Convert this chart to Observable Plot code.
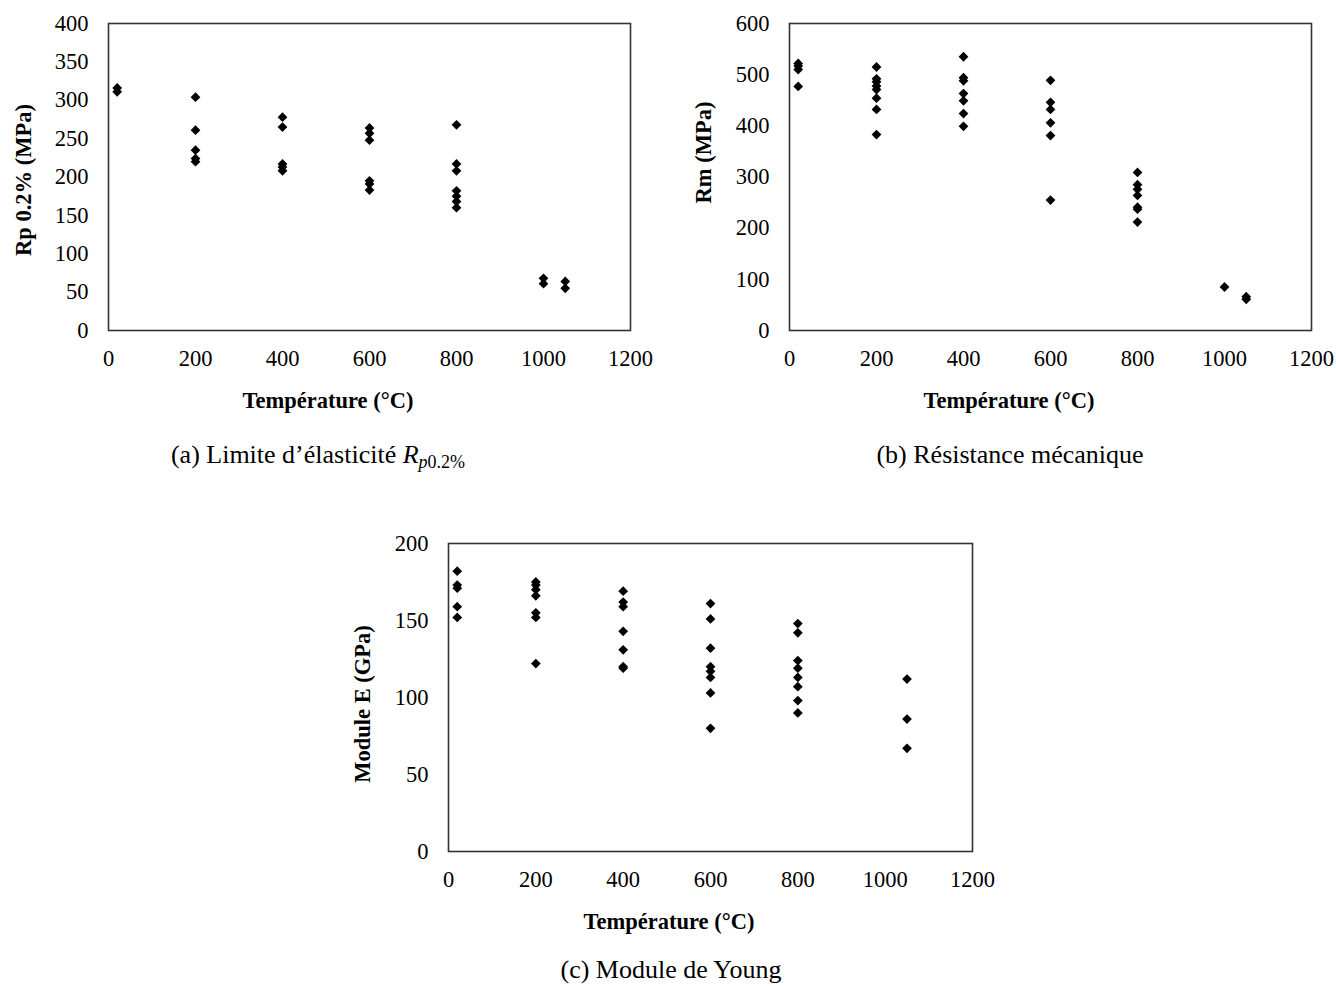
<!DOCTYPE html>
<html>
<head>
<meta charset="utf-8">
<script src="https://cdn.jsdelivr.net/npm/d3@7"></script>
<script src="https://cdn.jsdelivr.net/npm/@observablehq/plot@0.6"></script>
<style>
  html, body { margin: 0; padding: 0; background: #fff; }
  #page { position: relative; width: 1336px; height: 986px; overflow: hidden; background: #fff; }
  .panel { position: absolute; }
  #overlay { position: absolute; left: 0; top: 0; pointer-events: none; }
</style>
</head>
<body>
<div id="page">
  <div class="panel" id="pa" style="left:0px;top:0px"></div>
  <div class="panel" id="pb" style="left:668px;top:0px"></div>
  <div class="panel" id="pc" style="left:340px;top:520px"></div>
</div>
<script>
// ---- Data ----
const temperatures = [20, 200, 400, 600, 800, 1000, 1050];
const xTicks = [0, 200, 400, 600, 800, 1000, 1200];

// (a) Limite d'élasticité Rp0.2% (MPa), grouped by temperature
const rpValues = [
  [316, 311],
  [304, 261, 235, 224, 220],
  [278, 265, 217, 213, 208],
  [264, 257, 248, 195, 191, 183],
  [268, 217, 208, 182, 175, 168, 160],
  [68, 61],
  [64, 55]
];
const rpTicks = [0, 50, 100, 150, 200, 250, 300, 350, 400];

// (b) Résistance mécanique Rm (MPa)
const rmValues = [
  [522, 517, 510, 477],
  [515, 492, 486, 478, 471, 454, 432, 383],
  [535, 494, 488, 463, 449, 424, 399],
  [489, 446, 432, 406, 381, 255],
  [309, 285, 276, 264, 241, 237, 212],
  [85],
  [66, 61]
];
const rmTicks = [0, 100, 200, 300, 400, 500, 600];

// (c) Module de Young E (GPa)
const eValues = [
  [182, 173, 171, 159, 152],
  [175, 173, 170, 166, 155, 152, 122],
  [169, 162, 159, 143, 131, 120, 119],
  [161, 151, 132, 120, 117, 113, 103, 80],
  [148, 142, 124, 119, 113, 107, 98, 90],
  [],
  [112, 86, 67]
];
const eTicks = [0, 50, 100, 150, 200];

const xTitle = "Température (°C)";
const yTitles = ["Rp 0.2% (MPa)", "Rm (MPa)", "Module E (GPa)"];

// ---- Drawing ----
const FONT = "'Liberation Serif', 'Times New Roman', Times, serif";

function panel(values, yTicksArr, opts) {
  const rows = temperatures.flatMap((t, i) => values[i].map(v => ({t, v})));
  return Plot.plot({
    width: opts.width,
    height: opts.height,
    marginLeft: opts.marginLeft,
    marginRight: opts.marginRight,
    marginTop: opts.marginTop,
    marginBottom: opts.marginBottom,
    style: {fontFamily: FONT, fontSize: "22.5px", color: "#000", background: "transparent", overflow: "visible"},
    x: {domain: [0, 1200], ticks: xTicks, tickSize: 0, tickPadding: 20, tickFormat: "d", label: null},
    y: {domain: [yTicksArr[0], yTicksArr[yTicksArr.length - 1]], ticks: yTicksArr, tickSize: 0, tickPadding: 20, tickFormat: "d", label: null},
    marks: [
      Plot.frame({stroke: "#333", strokeWidth: 1.6}),
      Plot.dot(rows, {x: "t", y: "v", symbol: "diamond2", r: 4.4, fill: "#000", stroke: "none"})
    ]
  });
}

document.getElementById("pa").append(panel(rpValues, rpTicks,
  {width: 668, height: 380, marginLeft: 108, marginRight: 38, marginTop: 23, marginBottom: 50}));
document.getElementById("pb").append(panel(rmValues, rmTicks,
  {width: 668, height: 380, marginLeft: 121, marginRight: 25, marginTop: 23, marginBottom: 50}));
document.getElementById("pc").append(panel(eValues, eTicks,
  {width: 660, height: 380, marginLeft: 108, marginRight: 28, marginTop: 23, marginBottom: 49}));

// ---- Text overlay: axis titles and captions ----
const svg = d3.select("#page").append("svg")
  .attr("id", "overlay")
  .attr("width", 1336).attr("height", 986)
  .style("font-family", FONT);

// x-axis titles
[[328, 407.5], [1009, 407.5], [669, 928.5]].forEach(([x, y]) => {
  svg.append("text").attr("x", x).attr("y", y)
    .attr("text-anchor", "middle").attr("font-size", 22.5).attr("font-weight", "bold")
    .attr("fill", "#000").text(xTitle);
});

// y-axis titles (rotated)
[[30.5, 180], [710.5, 152.5], [370, 704]].forEach(([x, y], i) => {
  svg.append("text").attr("transform", `translate(${x},${y}) rotate(-90)`)
    .attr("text-anchor", "middle").attr("font-size", 22.5).attr("font-weight", "bold")
    .attr("fill", "#000").text(yTitles[i]);
});

// captions
const capA = svg.append("text").attr("x", 318).attr("y", 463)
  .attr("text-anchor", "middle").attr("font-size", 26).attr("fill", "#000");
capA.append("tspan").text("(a) Limite d’élasticité ");
capA.append("tspan").attr("font-style", "italic").text("R");
capA.append("tspan").attr("font-style", "italic").attr("font-size", 18).attr("dy", 5).text("p");
capA.append("tspan").attr("font-size", 18).text("0.2%");

svg.append("text").attr("x", 1010).attr("y", 463)
  .attr("text-anchor", "middle").attr("font-size", 26).attr("fill", "#000")
  .text("(b) Résistance mécanique");

svg.append("text").attr("x", 671).attr("y", 978)
  .attr("text-anchor", "middle").attr("font-size", 26).attr("fill", "#000")
  .text("(c) Module de Young");
</script>
</body>
</html>
